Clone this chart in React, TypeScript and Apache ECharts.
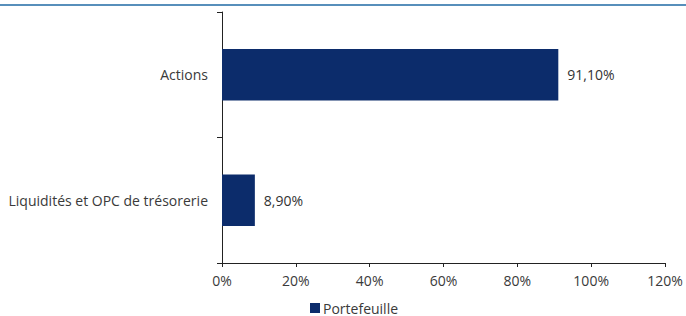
import React, { useEffect, useRef } from "react";
import * as echarts from "echarts";

const categories = ["Liquidités et OPC de trésorerie", "Actions"];
const portefeuille = [8.9, 91.1];
const seriesName = "Portefeuille";
const xTicks = [0, 20, 40, 60, 80, 100, 120];

const FONT = "'Open Sans', sans-serif";

export default function App() {
  const ref = useRef<HTMLDivElement>(null);
  useEffect(() => {
    if (!ref.current) return;
    const chart = echarts.init(ref.current, undefined, { renderer: "svg" });
    chart.setOption({
      animation: false,
      textStyle: { fontFamily: FONT },
      graphic: [
        {
          type: "line",
          shape: { x1: 0, y1: 5, x2: 686, y2: 5 },
          style: { stroke: "#1f6aa5", lineWidth: 1.5 },
        },
      ],
      legend: {
        bottom: -4,
        left: 305,
        itemWidth: 10,
        itemHeight: 10,
        itemGap: 4,
        icon: "rect",
        textStyle: { fontFamily: FONT, fontSize: 14, color: "#3a3a3a", padding: [0, 0, 0, -2] },
        data: [seriesName],
      },
      grid: { left: 222, right: 21, top: 12, bottom: 53 },
      xAxis: {
        type: "value",
        min: xTicks[0],
        max: xTicks[xTicks.length - 1],
        interval: 20,
        splitLine: { show: false },
        axisLine: { show: true, lineStyle: { color: "#222", width: 1 } },
        axisTick: { show: true, length: 4, lineStyle: { color: "#222" } },
        axisLabel: {
          formatter: (v: number) => `${v}%`,
          color: "#3a3a3a",
          fontSize: 14,
          fontFamily: FONT,
          margin: 10,
        },
      },
      yAxis: {
        type: "category",
        data: categories,
        axisLine: { show: true, lineStyle: { color: "#222", width: 1 } },
        axisTick: { show: true, length: 5, lineStyle: { color: "#222" } },
        axisLabel: { color: "#3a3a3a", fontSize: 14, fontFamily: FONT, margin: 14 },
      },
      series: [
        {
          name: seriesName,
          type: "bar",
          data: portefeuille,
          barWidth: "41%",
          itemStyle: { color: "#0c2c6b" },
          label: {
            show: true,
            position: "right",
            distance: 9,
            color: "#333",
            fontSize: 14,
            fontFamily: FONT,
            formatter: (p: any) => p.value.toFixed(2).replace(".", ",") + "%",
          },
        },
      ],
    });
    return () => chart.dispose();
  }, []);
  return <div ref={ref} style={{ width: 686, height: 316, position: "absolute", left: 0, top: 0 }} />;
}
